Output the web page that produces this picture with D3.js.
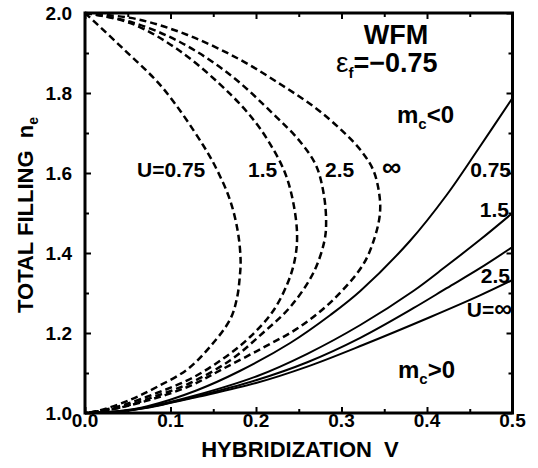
<!DOCTYPE html>
<html><head><meta charset="utf-8">
<script src="https://cdn.jsdelivr.net/npm/d3@7"></script>
<style>body{margin:0;background:#fff}svg{display:block}</style></head>
<body><svg id="c" width="538" height="468"></svg>
<script>
// ---- data (V, n_e) ----
const xTicks = [0.0, 0.1, 0.2, 0.3, 0.4, 0.5];
const yTicks = [1.0, 1.2, 1.4, 1.6, 1.8, 2.0];
const xMinor = [0.05, 0.15, 0.25, 0.35, 0.45];
const yMinor = [1.1, 1.3, 1.5, 1.7, 1.9];

// dashed boundaries, U = 0.75, 1.5, 2.5, inf
const dashU075 = [[0,2],[0.045,1.91],[0.091,1.8125],[0.138,1.67],[0.155,1.605],[0.17,1.53],[0.179,1.45],[0.182,1.38],[0.181,1.34],[0.178,1.29],[0.17,1.235],[0.146,1.165],[0.119,1.108],[0.084,1.065],[0.053,1.033],[0.018,1.007],[0,1]];
const dashU15  = [[0,2],[0.053,1.975],[0.111,1.905],[0.17,1.797],[0.2,1.725],[0.22,1.66],[0.234,1.6],[0.243,1.5325],[0.248,1.45],[0.246,1.39],[0.238,1.33],[0.22,1.255],[0.193,1.19],[0.161,1.135],[0.123,1.085],[0.084,1.05],[0.045,1.02],[0.015,1.004],[0,1]];
const dashU25  = [[0,2],[0.053,1.978],[0.111,1.9275],[0.17,1.845],[0.22,1.748],[0.251,1.68],[0.27,1.62],[0.279,1.55],[0.282,1.48],[0.28,1.43],[0.267,1.35],[0.24,1.265],[0.208,1.2],[0.17,1.132],[0.123,1.075],[0.08,1.04],[0.04,1.013],[0,1]];
const dashUinf = [[0,2],[0.06,1.985],[0.12,1.945],[0.18,1.885],[0.23,1.82],[0.27,1.762],[0.30,1.707],[0.322,1.658],[0.337,1.608],[0.344,1.55],[0.345,1.5],[0.339,1.44],[0.325,1.37],[0.29,1.2825],[0.251,1.215],[0.208,1.163],[0.161,1.11],[0.123,1.068],[0.076,1.033],[0.029,1.008],[0,1]];

// solid boundaries, U = 0.75, 1.5, 2.5, inf
const solidU075 = [[0,1],[0.04,1.005],[0.073,1.017],[0.131,1.057],[0.181,1.105],[0.24,1.175],[0.287,1.245],[0.322,1.305],[0.38,1.43],[0.423,1.545],[0.46,1.66],[0.5,1.7875]];
const solidU15  = [[0,1],[0.04,1.004],[0.073,1.015],[0.131,1.045],[0.201,1.092],[0.26,1.148],[0.322,1.22],[0.384,1.305],[0.423,1.368],[0.462,1.433],[0.5,1.5]];
const solidU25  = [[0,1],[0.04,1.004],[0.073,1.014],[0.131,1.042],[0.2,1.082],[0.26,1.127],[0.322,1.188],[0.384,1.262],[0.423,1.312],[0.462,1.362],[0.5,1.415]];
const solidUinf = [[0,1],[0.04,1.004],[0.073,1.013],[0.131,1.04],[0.2,1.075],[0.26,1.116],[0.325,1.17],[0.404,1.24],[0.462,1.294],[0.5,1.3325]];

const dashedSeries = [dashU075, dashU15, dashU25, dashUinf];
const solidSeries = [solidU075, solidU15, solidU25, solidUinf];

// ---- drawing ----
const svg = d3.select('#c');
const FONT = '"Liberation Sans", Arial, Helvetica, sans-serif';
const L = 85, R = 512.5, T = 13, B = 413;
const x = d3.scaleLinear().domain([0, 0.5]).range([L, R]);
const y = d3.scaleLinear().domain([1, 2]).range([B, T]);

const line = d3.line().x(d => x(d[0])).y(d => y(d[1])).curve(d3.curveCatmullRom.alpha(0.5));
const g = svg.append('g');

dashedSeries.forEach(s => g.append('path').attr('d', line(s))
  .attr('fill', 'none').attr('stroke', '#000').attr('stroke-width', 2.5)
  .attr('stroke-dasharray', '7,4'));
solidSeries.forEach(s => g.append('path').attr('d', line(s))
  .attr('fill', 'none').attr('stroke', '#000').attr('stroke-width', 2));

// axes (ticks inside on all four sides)
function axisG(axis, tx, ty) {
  const a = svg.append('g').attr('transform', `translate(${tx},${ty})`).call(axis);
  a.select('.domain').remove();
  a.selectAll('line').attr('stroke', '#000').attr('stroke-width', 2);
  a.selectAll('text').remove();
  return a;
}
axisG(d3.axisBottom(x).tickValues(xTicks).tickSize(-6), 0, B);
axisG(d3.axisBottom(x).tickValues(xMinor).tickSize(-4), 0, B);
axisG(d3.axisTop(x).tickValues(xTicks).tickSize(-6), 0, T);
axisG(d3.axisTop(x).tickValues(xMinor).tickSize(-4), 0, T);
axisG(d3.axisLeft(y).tickValues(yTicks).tickSize(-6), L, 0);
axisG(d3.axisLeft(y).tickValues(yMinor).tickSize(-4), L, 0);
axisG(d3.axisRight(y).tickValues(yTicks).tickSize(-6), R, 0);
axisG(d3.axisRight(y).tickValues(yMinor).tickSize(-4), R, 0);

svg.append('rect').attr('x', L).attr('y', T).attr('width', R - L).attr('height', B - T)
  .attr('fill', 'none').attr('stroke', '#000').attr('stroke-width', 3);

// tick labels
svg.append('g').selectAll('text').data(xTicks).join('text')
  .attr('x', d => x(d)).attr('y', 427).attr('text-anchor', 'middle')
  .attr('font-family', FONT).attr('font-weight', 'bold').attr('font-size', 19)
  .text(d => d3.format('.1f')(d));
svg.append('g').selectAll('text').data(yTicks).join('text')
  .attr('x', 72).attr('y', d => y(d)).attr('dy', '0.36em').attr('text-anchor', 'end')
  .attr('font-family', FONT).attr('font-weight', 'bold').attr('font-size', 19)
  .text(d => d3.format('.1f')(d));

// axis titles
svg.append('text').attr('x', 300).attr('y', 457).attr('text-anchor', 'middle')
  .attr('font-family', FONT).attr('font-weight', 'bold').attr('font-size', 22)
  .text('HYBRIDIZATION\u00a0\u00a0V');
const yl = svg.append('text').attr('transform', 'translate(33,215) rotate(-90)')
  .attr('text-anchor', 'middle').attr('font-family', FONT).attr('font-weight', 'bold').attr('font-size', 22);
yl.append('tspan').text('TOTAL FILLING\u00a0\u00a0n');
yl.append('tspan').attr('font-size', 14).attr('dy', 5).text('e');

// annotations
function label(px, py, txt, size, anchor) {
  return svg.append('text').attr('x', px).attr('y', py).attr('text-anchor', anchor || 'start')
    .attr('font-family', FONT).attr('font-weight', 'bold').attr('font-size', size).text(txt);
}
label(396, 44, 'WFM', 27, 'middle');
const ef = svg.append('text').attr('x', 336).attr('y', 72).attr('font-family', FONT).attr('font-size', 28);
ef.append('tspan').text('ε');
ef.append('tspan').attr('font-size', 15).attr('dy', 6).attr('font-weight', 'bold').text('f');
ef.append('tspan').attr('dy', -6).attr('font-weight', 'bold').attr('font-size', 27).text('=−0.75');

const mc1 = svg.append('text').attr('x', 397).attr('y', 123).attr('font-family', FONT).attr('font-weight', 'bold').attr('font-size', 24);
mc1.append('tspan').text('m');
mc1.append('tspan').attr('font-size', 15).attr('dy', 6).text('c');
mc1.append('tspan').attr('dy', -6).text('<0');
const mc2 = svg.append('text').attr('x', 398).attr('y', 378).attr('font-family', FONT).attr('font-weight', 'bold').attr('font-size', 24);
mc2.append('tspan').text('m');
mc2.append('tspan').attr('font-size', 15).attr('dy', 6).text('c');
mc2.append('tspan').attr('dy', -6).text('>0');

label(137, 177, 'U=0.75', 21);
label(248, 177, '1.5', 21);
label(325, 177, '2.5', 21);
label(382, 176, '∞', 27);

label(511, 177, '0.75', 21, 'end');
label(509, 217, '1.5', 21, 'end');
label(510, 283, '2.5', 21, 'end');
const ui = svg.append('text').attr('x', 512).attr('y', 317).attr('text-anchor', 'end')
  .attr('font-family', FONT).attr('font-weight', 'bold').attr('font-size', 21);
ui.append('tspan').text('U=');
ui.append('tspan').attr('font-size', 25).text('∞');
</script>
</body></html>
